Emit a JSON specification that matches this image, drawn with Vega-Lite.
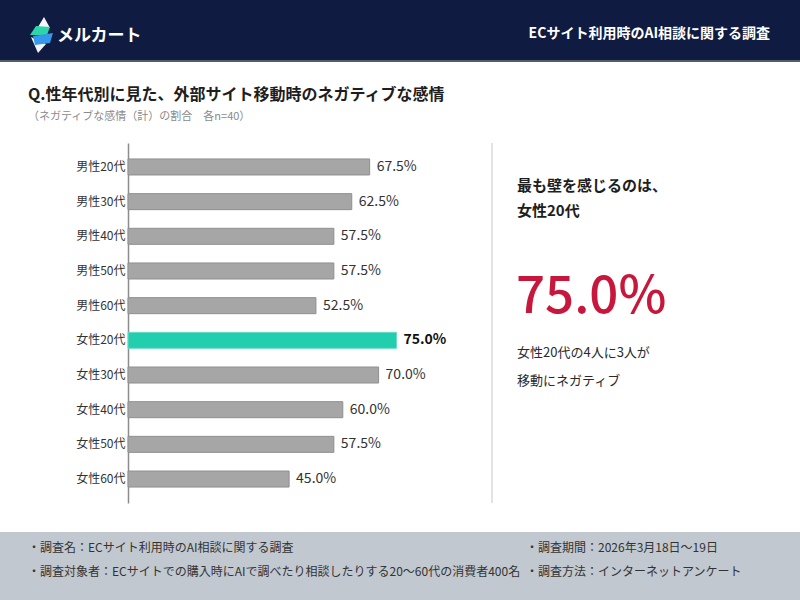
{
  "$schema": "https://vega.github.io/schema/vega-lite/v6.json",
  "description": "Negative feelings when moving to an external site, by gender and age group.",
  "background": "white",
  "padding": 0,
  "datasets": {
    "none": [],
    "one": [{}],
    "rates": [
      {"group": "男性20代", "rate": 0.675},
      {"group": "男性30代", "rate": 0.625},
      {"group": "男性40代", "rate": 0.575},
      {"group": "男性50代", "rate": 0.575},
      {"group": "男性60代", "rate": 0.525},
      {"group": "女性20代", "rate": 0.75},
      {"group": "女性30代", "rate": 0.70},
      {"group": "女性40代", "rate": 0.60},
      {"group": "女性50代", "rate": 0.575},
      {"group": "女性60代", "rate": 0.45}
    ]
  },
  "spacing": 0,
  "bounds": "full",
  "vconcat": [
    {
      "spacing": 0,
      "bounds": "flush",
      "hconcat": [
        {"width": 26, "height": 60, "view": {"fill": "#0f1b40"}, "data": {"name": "none"}, "mark": {"type": "text", "text": ""}},
        {
          "width": 30, "height": 60, "view": {"fill": "#0f1b40"}, "data": {"name": "one"},
          "layer": [
            {"mark": {"type": "point", "shape": "M3,-13 L9,-2 L-3,-3 Z", "size": 4, "filled": true, "opacity": 1, "color": "#f4f6fb"}},
            {"mark": {"type": "point", "shape": "M-10,7 L5,14 L-3,23 Z", "size": 4, "filled": true, "opacity": 1, "color": "#f4f6fb"}},
            {"mark": {"type": "point", "shape": "M-5,-4 L9,-3 L6,5 L-11,5 Z", "size": 4, "filled": true, "opacity": 1, "color": "#2dd6a8"}},
            {"mark": {"type": "point", "shape": "M-8,6 L12,3 L9,13 L-6,15 Z", "size": 4, "filled": true, "opacity": 1, "color": "#3598ea"}}
          ]
        },
        {
          "width": 120, "height": 60, "view": {"fill": "#0f1b40"}, "data": {"name": "none"}, "mark": {"type": "text", "text": ""},
          "title": {"text": "メルカート", "anchor": "start", "frame": "group", "offset": -45, "dx": 1, "fontSize": 17, "fontWeight": "bold", "color": "#ffffff"}
        },
        {
          "width": 594, "height": 60, "view": {"fill": "#0f1b40"}, "data": {"name": "none"}, "mark": {"type": "text", "text": ""},
          "title": {"text": "ECサイト利用時のAI相談に関する調査", "anchor": "end", "frame": "group", "offset": -41.3, "fontSize": 14, "fontWeight": "bold", "color": "#ffffff"}
        },
        {"width": 30, "height": 60, "view": {"fill": "#0f1b40"}, "data": {"name": "none"}, "mark": {"type": "text", "text": ""}}
      ]
    },
    {"width": 800, "height": 2, "view": {"fill": "#565b6b"}, "data": {"name": "none"}, "mark": {"type": "text", "text": ""}},
    {
      "width": 800, "height": 81, "data": {"name": "none"}, "mark": {"type": "text", "text": ""},
      "title": {
        "text": "Q.性年代別に見た、外部サイト移動時のネガティブな感情",
        "subtitle": "（ネガティブな感情（計）の割合　各n=40）",
        "anchor": "start", "frame": "group", "offset": -59.5, "dx": 28,
        "fontSize": 16, "fontWeight": "bold", "color": "#1e1e1e",
        "subtitleFontSize": 11, "subtitleColor": "#8a8a8a", "subtitlePadding": 8
      }
    },
    {
      "spacing": 0,
      "bounds": "flush",
      "hconcat": [
        {"width": 128, "height": 360, "data": {"name": "none"}, "mark": {"type": "text", "text": ""}},
        {
          "width": 358,
          "height": 360,
          "data": {"name": "rates"},
          "encoding": {
            "y": {
              "field": "group", "type": "nominal", "sort": null,
              "scale": {"paddingInner": 0.538, "paddingOuter": 0.46, "round": false},
              "axis": {"title": null, "ticks": false, "labelPadding": 3, "labelFontSize": 12, "labelColor": "#333333", "domainColor": "#8c8c8c", "domainWidth": 1.5, "grid": false}
            },
            "x": {"field": "rate", "type": "quantitative", "scale": {"domain": [0, 1]}, "axis": null}
          },
          "layer": [
            {
              "mark": {"type": "bar", "strokeWidth": 1},
              "encoding": {
                "fill": {"condition": {"test": "datum.group === '女性20代'", "value": "#21cfae"}, "value": "#a6a6a6"},
                "stroke": {"condition": {"test": "datum.group === '女性20代'", "value": "#6adcc6"}, "value": "#8f8f8f"}
              }
            },
            {
              "mark": {"type": "text", "align": "left", "baseline": "middle", "dx": 7, "fontSize": 14, "color": "#333333"},
              "encoding": {
                "text": {"field": "rate", "type": "quantitative", "format": ".1%"},
                "opacity": {"condition": {"test": "datum.group === '女性20代'", "value": 0}, "value": 1}
              }
            },
            {
              "mark": {"type": "text", "align": "left", "baseline": "middle", "dx": 7, "fontSize": 14, "fontWeight": "bold", "color": "#111111"},
              "encoding": {
                "text": {"field": "rate", "type": "quantitative", "format": ".1%"},
                "opacity": {"condition": {"test": "datum.group === '女性20代'", "value": 1}, "value": 0}
              }
            }
          ]
        },
        {"width": 5, "height": 360, "data": {"name": "none"}, "mark": {"type": "text", "text": ""}},
        {"width": 2, "height": 360, "view": {"fill": "#e2e2e2"}, "data": {"name": "none"}, "mark": {"type": "text", "text": ""}},
        {
          "spacing": 0,
          "bounds": "flush",
          "vconcat": [
            {
              "width": 307, "height": 87, "data": {"name": "none"}, "mark": {"type": "text", "text": ""},
              "title": {"text": ["最も壁を感じるのは、", "女性20代"], "lineHeight": 25, "anchor": "start", "frame": "group", "offset": -75.9, "dx": 24, "fontSize": 15, "fontWeight": "bold", "color": "#1e1e1e"}
            },
            {
              "width": 307, "height": 100, "data": {"name": "none"}, "mark": {"type": "text", "text": ""},
              "title": {"text": "75.0%", "anchor": "start", "frame": "group", "offset": -93.7, "dx": 23, "fontSize": 51, "fontWeight": 500, "color": "#c8173c"}
            },
            {
              "width": 307, "height": 173, "data": {"name": "none"}, "mark": {"type": "text", "text": ""},
              "title": {"text": ["女性20代の4人に3人が", "移動にネガティブ"], "lineHeight": 28, "anchor": "start", "frame": "group", "offset": -57.7, "dx": 24, "fontSize": 13, "fontWeight": "normal", "color": "#2a2a2a"}
            }
          ]
        }
      ]
    },
    {"width": 800, "height": 29, "data": {"name": "none"}, "mark": {"type": "text", "text": ""}},
    {
      "spacing": 0,
      "bounds": "flush",
      "hconcat": [
        {
          "width": 526, "height": 68, "view": {"fill": "#c2c8cf"}, "data": {"name": "none"}, "mark": {"type": "text", "text": ""},
          "title": {
            "text": ["・調査名：ECサイト利用時のAI相談に関する調査", "・調査対象者：ECサイトでの購入時にAIで調べたり相談したりする20〜60代の消費者400名"],
            "lineHeight": 24, "anchor": "start", "frame": "group", "offset": -47.1, "dx": 28, "fontSize": 12, "fontWeight": "normal", "color": "#333333"
          }
        },
        {
          "width": 274, "height": 68, "view": {"fill": "#c2c8cf"}, "data": {"name": "none"}, "mark": {"type": "text", "text": ""},
          "title": {
            "text": ["・調査期間：2026年3月18日〜19日", "・調査方法：インターネットアンケート"],
            "lineHeight": 24, "anchor": "start", "frame": "group", "offset": -47.1, "fontSize": 12, "fontWeight": "normal", "color": "#333333"
          }
        }
      ]
    }
  ],
  "config": {
    "font": "Noto Sans CJK JP",
    "view": {"stroke": null},
    "concat": {"spacing": 0},
    "title": {"font": "Noto Sans CJK JP", "subtitleFont": "Noto Sans CJK JP"},
    "axis": {"labelFont": "Noto Sans CJK JP"},
    "text": {"font": "Noto Sans CJK JP"}
  }
}
